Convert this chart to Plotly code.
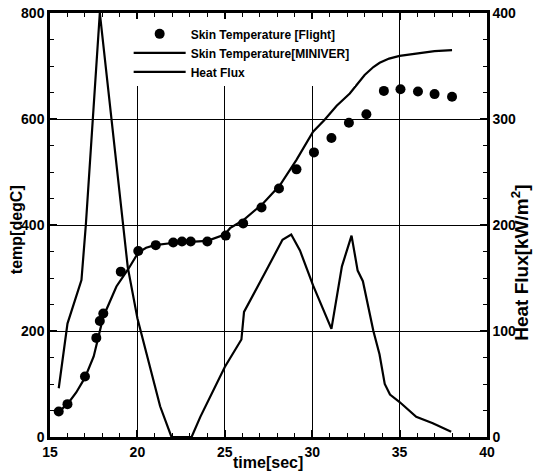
import plotly.graph_objects as go

# Skin temperature, flight data (points)
flight_time = [15.5, 16.0, 17.0, 17.65, 17.85, 18.05, 19.05, 20.05, 21.05, 22.05, 22.55, 23.05,
               24.0, 25.05, 26.05, 27.1, 28.1, 29.1, 30.1, 31.1, 32.1, 33.1, 34.1, 35.05,
               36.05, 37.0, 38.0]
flight_temp = [48, 62, 114, 187, 219, 233, 312, 351, 362, 367, 369, 369,
               369, 380, 403, 433, 469, 505, 537, 564, 593, 609, 653, 656,
               652, 647, 642]

# Skin temperature, MINIVER prediction (line)
miniver_time = [15.5, 16.0, 16.5, 17.0, 17.5, 17.85, 18.05, 18.8, 19.5, 20.05, 20.5, 21.0,
                22.0, 23.0, 24.0, 25.0, 25.3, 26.05, 27.2, 28.15, 29.1, 30.05, 30.7, 31.4,
                32.15, 33.0, 33.5, 33.86, 34.4, 35.0, 36.0, 37.0, 38.0]
miniver_temp = [48, 62, 84, 112, 152, 199, 227, 284, 318, 348, 357, 362,
                366, 368, 370, 382, 394, 409, 441, 475, 523, 576, 598, 625,
                648, 683, 698, 706, 714, 719, 724, 728, 730]

# Heat flux (line, right axis)
flux_time = [15.5, 16.0, 16.8, 17.05, 17.85, 19.0, 19.45, 20.0, 20.7, 21.3, 21.95, 23.1,
             23.6, 25.0, 25.95, 26.1, 27.4, 28.3, 28.8, 29.3, 30.05, 31.1, 31.7, 32.25,
             32.6, 32.9, 33.5, 33.85, 34.15, 34.45, 35.0, 35.95, 36.9, 37.95]
flux_value = [46, 107, 148, 200, 400, 225, 160, 112, 66, 29, 0, 0,
              19, 66, 92, 118, 158, 186, 191, 176, 143, 102, 161, 190,
              157, 147, 100, 78, 50, 40, 33, 19, 13, 5]

x_ticks = [15, 20, 25, 30, 35, 40]
temp_ticks = [0, 200, 400, 600, 800]
flux_ticks = [0, 100, 200, 300, 400]

FONT = "Liberation Sans"
tickfont = dict(family=FONT, size=14, color="black", weight="bold")
titlefont = dict(family=FONT, size=16, color="black", weight="bold")

fig = go.Figure()
fig.add_trace(go.Scatter(
    x=flight_time, y=flight_temp, mode="markers", name="Skin Temperature [Flight]",
    marker=dict(symbol="circle", size=10, color="black"), yaxis="y"))
fig.add_trace(go.Scatter(
    x=miniver_time, y=miniver_temp, mode="lines", name="Skin Temperature[MINIVER]",
    line=dict(color="black", width=2.2), yaxis="y"))
fig.add_trace(go.Scatter(
    x=flux_time, y=flux_value, mode="lines", name="Heat Flux",
    line=dict(color="black", width=2.2), yaxis="y2"))

fig.update_layout(
    width=536, height=474,
    margin=dict(l=50, r=49, t=13, b=37, autoexpand=False),
    paper_bgcolor="white", plot_bgcolor="white",
    showlegend=True,
    legend=dict(x=0.18, y=0.985, xanchor="left", yanchor="top",
                bgcolor="white", borderwidth=0,
                font=dict(family=FONT, size=12, color="black", weight="bold"),
                itemwidth=52, tracegroupgap=0),
    xaxis=dict(range=[15, 40], tickvals=x_ticks, ticktext=[str(v) for v in x_ticks],
               ticks="inside", ticklen=7, tickwidth=1.5, tickcolor="black",
               minor=dict(dtick=1, ticks="inside", ticklen=4, tickcolor="black", tickwidth=1),
               showline=True, linewidth=2.5, linecolor="black", mirror="ticks",
               showgrid=True, gridcolor="black", gridwidth=1,
               tickfont=tickfont, automargin=False, zeroline=False,
               ticklabeloverflow="allow"),
    yaxis=dict(range=[0, 800], tickvals=temp_ticks, ticktext=[str(v) for v in temp_ticks],
               ticks="inside", ticklen=7, tickwidth=1.5, tickcolor="black",
               minor=dict(dtick=50, ticks="inside", ticklen=4, tickcolor="black", tickwidth=1),
               showline=True, linewidth=2.5, linecolor="black",
               showgrid=True, gridcolor="black", gridwidth=1,
               tickfont=tickfont, automargin=False, zeroline=False,
               ticklabeloverflow="allow"),
    yaxis2=dict(range=[0, 400], tickvals=flux_ticks, ticktext=[str(v) for v in flux_ticks],
                overlaying="y", side="right",
                ticks="inside", ticklen=7, tickwidth=1.5, tickcolor="black",
                minor=dict(dtick=25, ticks="inside", ticklen=4, tickcolor="black", tickwidth=1),
                showline=True, linewidth=2.5, linecolor="black",
                showgrid=False, tickfont=tickfont, automargin=False, zeroline=False,
                ticklabeloverflow="allow"),
    annotations=[
        dict(text="time[sec]", xref="paper", yref="paper", x=0.499, y=-0.061,
             xanchor="center", yanchor="middle", showarrow=False, font=titlefont),
        dict(text="temp[degC]", xref="paper", yref="paper", x=-0.078, y=0.49,
             xanchor="center", yanchor="middle", showarrow=False, font=titlefont,
             textangle=-90),
        dict(text="Heat Flux[kW/m<sup>2</sup>]", xref="paper", yref="paper", x=1.077, y=0.41,
             xanchor="center", yanchor="middle", showarrow=False,
             font=dict(family=FONT, size=19, color="black", weight="bold"),
             textangle=-90),
    ],
)

fig.write_html("out.html",
               config={"displayModeBar": False},
               post_script="document.body.style.margin='0px';document.body.style.overflow='hidden';")
